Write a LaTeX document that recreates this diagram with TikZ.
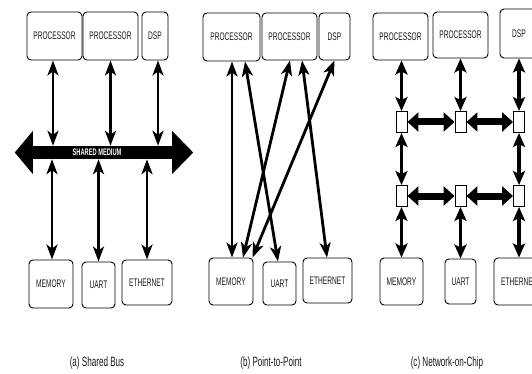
\documentclass[tikz,border=0pt]{standalone}
\usepackage{fontspec}
\newfontfamily\nar[FakeStretch=0.6]{Liberation Sans}
\usetikzlibrary{arrows.meta}
\tikzset{
  box/.style={draw=black, line width=0.9pt, rounded corners=4pt, inner sep=0pt,
    align=center, text=black!90, font=\nar\fontsize{11}{12}\selectfont},
  router/.style={draw=black, fill=white, line width=0.9pt, minimum width=11pt,
    minimum height=21pt, inner sep=0pt},
  captxt/.style={text=black!90, font=\nar\fontsize{13.5}{15}\selectfont},
  tarr/.style={line width=2.8pt, >={Stealth[length=15pt,width=11pt,inset=4pt]}, <->},
  varr/.style={line width=3.2pt, >={Stealth[length=14pt,width=12pt,inset=3pt]}, <->},
  harr/.style={line width=7pt, >={Triangle[length=11pt,width=19pt]}, <->},
  busbar/.style={fill=black, minimum width=139pt, minimum height=13pt, inner sep=0pt},
  buslabel/.style={text=white, font=\nar\bfseries\fontsize{9.5}{10}\selectfont, inner sep=0pt}
}
\begin{document}
\begin{tikzpicture}[x=1pt,y=-1pt]
\useasboundingbox (0,0) rectangle (532,374);
\clip (0,0) rectangle (532,374);
\fill[white] (0,0) rectangle (532,374);

% ---------- (a) Shared Bus ----------
\node[box, minimum width=55pt, minimum height=48pt] (p1a) at (54.5,36) {PROCESSOR};
\node[box, minimum width=55pt, minimum height=48pt] (p2a) at (110.5,36) {PROCESSOR};
\node[box, minimum width=26pt, minimum height=48pt] (dspa) at (155,36) {DSP};
\node[box, minimum width=44pt, minimum height=48pt] (mema) at (51,284) {MEMORY};
\node[box, minimum width=33pt, minimum height=46pt] (uarta) at (98.5,285) {UART};
\node[box, minimum width=50pt, minimum height=45pt] (etha) at (147,282.5) {ETHERNET};

\node[busbar] (bus) at (102.5,152.5) {};
\fill (bus.west) ++(0,-21.5) -- ++(-18,21.5) -- ++(18,21.5) -- cycle;
\fill (bus.east) ++(0,-21.5) -- ++(21,21.5) -- ++(-21,21.5) -- cycle;
\node[buslabel] (busl) at (97,152.5) {SHARED MEDIUM};

\draw[tarr] ([xshift=-1.5pt]p1a.south) -- ([xshift=-1.5pt]p1a.south |- bus.north);
\draw[tarr] (p2a.south) -- (p2a.south |- bus.north);
\draw[tarr] ([xshift=3pt]dspa.south) -- ([xshift=3pt]dspa.south |- bus.north);
\draw[tarr] ([xshift=1pt]mema.north) -- ([xshift=1pt]mema.north |- bus.south);
\draw[tarr] (uarta.north) -- (uarta.north |- bus.south);
\draw[tarr] (etha.north) -- (etha.north |- bus.south);

\node[captxt] (capa) at (97,363) {(a) Shared Bus};

% ---------- (b) Point-to-Point ----------
\node[box, minimum width=57pt, minimum height=48pt] (p1b) at (231.5,37) {PROCESSOR};
\node[box, minimum width=55pt, minimum height=47pt] (p2b) at (289.5,36.5) {PROCESSOR};
\node[box, minimum width=31pt, minimum height=47pt] (dspb) at (334.5,36.5) {DSP};
\node[box, minimum width=44pt, minimum height=47pt] (memb) at (231,281.5) {MEMORY};
\node[box, minimum width=33pt, minimum height=43pt] (uartb) at (279.5,283.5) {UART};
\node[box, minimum width=49pt, minimum height=45pt] (ethb) at (327.5,280.5) {ETHERNET};

\draw[tarr] ([xshift=0.5pt]p1b.south) -- ([xshift=1pt]memb.north);
\draw[tarr] ([xshift=13.5pt]p1b.south) -- ([xshift=-1.5pt]uartb.north);
\draw[tarr] ([xshift=0.5pt]p2b.south) -- ([xshift=12pt]memb.north);
\draw[tarr] ([xshift=12.5pt]p2b.south) -- ([xshift=-0.5pt]ethb.north);
\draw[tarr] (dspb.south) -- ([xshift=-1pt]memb.north east);

\node[captxt] (capb) at (271,363) {(b) Point-to-Point};

% ---------- (c) Network-on-Chip ----------
\node[box, minimum width=55pt, minimum height=47pt] (p1c) at (400.5,36.5) {PROCESSOR};
\node[box, minimum width=55pt, minimum height=46pt] (p2c) at (460.5,35) {PROCESSOR};
\node[box, minimum width=38pt, minimum height=49pt] (dspc) at (519,33.5) {DSP};
\node[box, minimum width=43pt, minimum height=47pt] (memc) at (401.5,281.5) {MEMORY};
\node[box, minimum width=31pt, minimum height=45pt] (uartc) at (460.5,281.5) {UART};
\node[box, minimum width=50pt, minimum height=47pt] (ethc) at (519,281.5) {ETHERNET};

\node[router] (r11) at (401.5,122) {};
\node[router] (r12) at (460.5,122) {};
\node[router] (r13) at (519,122) {};
\node[router] (r21) at (401.5,196) {};
\node[router] (r22) at (460.5,196) {};
\node[router] (r23) at (519,196) {};

\draw[varr] (r11.north |- p1c.south) -- (r11.north);
\draw[varr] (r12.north |- p2c.south) -- (r12.north);
\draw[varr] (r13.north |- dspc.south) -- (r13.north);
\draw[varr] (r11.south) -- (r21.north);
\draw[varr] (r13.south) -- (r23.north);
\draw[varr] (r21.south) -- (r21.south |- memc.north);
\draw[varr] (r22.south) -- (r22.south |- uartc.north);
\draw[varr] (r23.south) -- (r23.south |- ethc.north);

\draw[harr] (r11.east) -- (r12.west);
\draw[harr] (r12.east) -- (r13.west);
\draw[harr] (r21.east) -- (r22.west);
\draw[harr] (r22.east) -- (r23.west);

\node[captxt] (capc) at (447,363) {(c) Network-on-Chip};
\end{tikzpicture}
\end{document}
